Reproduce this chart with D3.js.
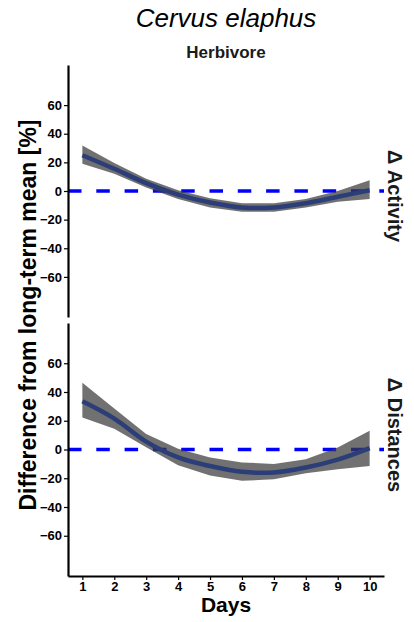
<!DOCTYPE html>
<html>
<head>
<meta charset="utf-8">
<script src="https://cdn.jsdelivr.net/npm/d3@7"></script>
<style>
  html, body { margin: 0; padding: 0; background: #fff; }
  svg { display: block; font-family: "Liberation Sans", Arial, sans-serif; }
</style>
</head>
<body>
<svg id="chart" width="414" height="622"></svg>
<script>
/* Cervus elaphus: smoothed change in activity and distances after event day. */

const days = [1, 2, 3, 4, 5, 6, 7, 8, 9, 10];
const yTicks = [-60, -40, -20, 0, 20, 40, 60];
const panelNames = ['Δ Activity', 'Δ Distances'];

const activityFit = [25, 15.5, 5.5, -2.5, -8, -11.5, -11.5, -8.5, -4, 0.5];
const activityUpper = [31.8, 19.5, 8.5, 0.5, -5, -8.5, -8.5, -5.5, 0, 7.5];
const activityLower = [19, 12, 2.5, -5.5, -11.5, -14.5, -14.5, -11.5, -7.5, -5.5];

const distanceFit = [33.5, 21.5, 5.5, -5.5, -11.5, -15.5, -16, -12.5, -7, 1];
const distanceUpper = [46.5, 28.5, 10.7, 0.5, -5.6, -9, -10, -6.7, 1.4, 13];
const distanceLower = [22.3, 14.5, 1.5, -11, -18, -21.8, -20.7, -16.5, -13.7, -11.4];

const svg = d3.select('#chart');

const x = d3.scaleLinear().domain([0.55, 10.45]).range([68, 384]);

const panels = [
  { name: panelNames[0], fit: activityFit, upper: activityUpper, lower: activityLower, top: 65, bottom: 317, labelY: 196 },
  { name: panelNames[1], fit: distanceFit, upper: distanceUpper, lower: distanceLower, top: 323, bottom: 576, labelY: 435 }
];

// title + facet header
svg.append('text')
  .attr('x', 226).attr('y', 27)
  .attr('text-anchor', 'middle')
  .attr('font-size', '26px').attr('font-style', 'italic')
  .attr('fill', '#000')
  .text('Cervus elaphus');

svg.append('text')
  .attr('x', 226).attr('y', 58)
  .attr('text-anchor', 'middle')
  .attr('font-size', '17px').attr('font-weight', 'bold')
  .attr('fill', '#1a1a1a')
  .text('Herbivore');

panels.forEach(panel => {
  const y = d3.scaleLinear().domain([-88, 88]).range([panel.bottom, panel.top]);
  const g = svg.append('g');

  // zero reference line
  g.append('line')
    .attr('x1', x.range()[0]).attr('x2', x.range()[1])
    .attr('y1', y(0)).attr('y2', y(0))
    .attr('stroke', '#0000ff')
    .attr('stroke-width', 3.5)
    .attr('stroke-dasharray', '13.5 14.8');

  const rows = days.map((d, i) => ({ day: d, fit: panel.fit[i], hi: panel.upper[i], lo: panel.lower[i] }));

  const band = d3.area()
    .x(d => x(d.day))
    .y0(d => y(d.lo))
    .y1(d => y(d.hi));

  g.append('path')
    .datum(rows)
    .attr('d', band)
    .attr('fill', '#3a3a3a')
    .attr('fill-opacity', 0.72);

  const line = d3.line()
    .x(d => x(d.day))
    .y(d => y(d.fit))
    .curve(d3.curveCatmullRom);

  g.append('path')
    .datum(rows)
    .attr('d', line)
    .attr('fill', 'none')
    .attr('stroke', '#2c3e78')
    .attr('stroke-width', 4.5);

  // y axis
  const yAxis = g.append('g')
    .attr('transform', 'translate(68,0)')
    .call(d3.axisLeft(y).tickValues(yTicks).tickSize(4).tickSizeOuter(0).tickPadding(2));
  yAxis.select('.domain').attr('stroke', '#000').attr('stroke-width', 2.2);
  yAxis.selectAll('.tick line').attr('stroke', '#000').attr('stroke-width', 1.2);
  yAxis.selectAll('.tick text')
    .attr('font-size', '13px').attr('font-weight', 'bold')
    .attr('font-family', '"Liberation Sans", Arial, sans-serif')
    .attr('fill', '#000');

  // strip label on the right
  svg.append('text')
    .attr('transform', `translate(388,${panel.labelY}) rotate(90)`)
    .attr('text-anchor', 'middle')
    .attr('font-size', '20px').attr('font-weight', 'bold')
    .attr('fill', '#1a1a1a')
    .text(panel.name);
});

// x axis on bottom panel only
const xAxis = svg.append('g')
  .attr('transform', 'translate(0,576)')
  .call(d3.axisBottom(x).tickValues(days).tickFormat(d3.format('d')).tickSize(4).tickSizeOuter(0).tickPadding(2));
xAxis.select('.domain').attr('stroke', '#000').attr('stroke-width', 2.2);
xAxis.selectAll('.tick line').attr('stroke', '#000').attr('stroke-width', 1.2);
xAxis.selectAll('.tick text')
  .attr('font-size', '13px').attr('font-weight', 'bold')
  .attr('font-family', '"Liberation Sans", Arial, sans-serif')
  .attr('fill', '#000');

svg.append('text')
  .attr('x', 226).attr('y', 612)
  .attr('text-anchor', 'middle')
  .attr('font-size', '21px').attr('font-weight', 'bold')
  .text('Days');

svg.append('text')
  .attr('transform', 'translate(36,315) rotate(-90)')
  .attr('text-anchor', 'middle')
  .attr('font-size', '23px').attr('font-weight', 'bold')
  .text('Difference from long-term mean [%]');
</script>
</body>
</html>
